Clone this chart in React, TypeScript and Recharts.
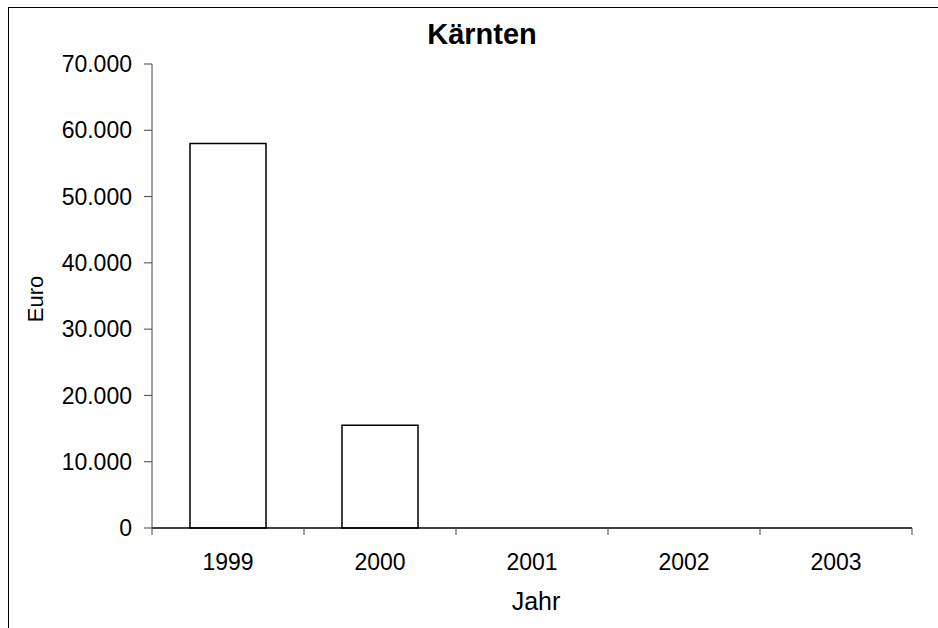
import { BarChart, Bar, XAxis, YAxis } from 'recharts';

const YEARS = ['1999', '2000', '2001', '2002', '2003'];
const EURO = [58000, 15500, 0, 0, 0];
const Y_TICKS = [0, 10000, 20000, 30000, 40000, 50000, 60000, 70000];
// tick marks sit on the category boundaries, not on the bars
const EDGE_TICKS = [0, 1, 2, 3, 4, 5];

// slot = centre of each category on the 0..5 boundary scale
const data = YEARS.map((year, i) => ({ year, euro: EURO[i], slot: i + 0.5 }));

const FONT = '"Liberation Sans", Arial, sans-serif';

// 70000 -> "70.000"
function formatThousands(v: number): string {
  return String(v).replace(/\B(?=(\d{3})+(?!\d))/g, '.');
}

export default function App() {
  return (
    <div
      style={{
        position: 'absolute',
        left: 8,
        top: 7,
        width: 930,
        height: 621,
        overflow: 'hidden',
        fontFamily: FONT,
      }}
    >
      <div
        style={{
          position: 'absolute',
          left: 0,
          top: 0,
          width: 948,
          height: 660,
          border: '1px solid #000',
          boxSizing: 'border-box',
        }}
      />
      <div
        style={{
          position: 'absolute',
          left: 0,
          top: 13,
          width: 948,
          textAlign: 'center',
          fontSize: 29,
          lineHeight: '29px',
          fontWeight: 'bold',
          color: '#000',
        }}
      >
        Kärnten
      </div>
      <div
        style={{
          position: 'absolute',
          left: 28,
          top: 292,
          transform: 'translate(-50%, -50%) rotate(-90deg)',
          fontSize: 22,
          lineHeight: '22px',
          color: '#000',
          whiteSpace: 'nowrap',
        }}
      >
        Euro
      </div>
      <div
        style={{
          position: 'absolute',
          left: 528,
          top: 582,
          transform: 'translateX(-50%)',
          fontSize: 25,
          lineHeight: '25px',
          color: '#000',
          whiteSpace: 'nowrap',
        }}
      >
        Jahr
      </div>
      <BarChart
        width={930}
        height={621}
        data={data}
        margin={{ top: 57, right: 26, left: 24, bottom: 60 }}
        barCategoryGap="25%"
        style={{ position: 'absolute', left: 0, top: 0 }}
      >
        <XAxis
          xAxisId="a_edges"
          type="number"
          dataKey="slot"
          domain={[0, 5]}
          allowDataOverflow
          ticks={EDGE_TICKS}
          interval={0}
          height={7}
          tickFormatter={() => ''}
          axisLine={{ stroke: '#000', strokeWidth: 1.5 }}
          tickLine={{ stroke: '#444' }}
          tickSize={7}
        />
        <XAxis
          xAxisId="b_cat"
          dataKey="year"
          height={33}
          axisLine={false}
          tickLine={false}
          tickSize={0}
          tickMargin={19}
          tick={{ fill: '#000', fontSize: 23, fontFamily: FONT }}
        />
        <YAxis
          width={120}
          domain={[0, 70000]}
          ticks={Y_TICKS}
          interval={0}
          tickFormatter={formatThousands}
          axisLine={{ stroke: '#444' }}
          tickLine={{ stroke: '#444' }}
          tickSize={8}
          tickMargin={12}
          tick={{ fill: '#000', fontSize: 23, fontFamily: FONT }}
        />
        <Bar
          xAxisId="b_cat"
          dataKey="euro"
          fill="#fff"
          stroke="#000"
          strokeWidth={1.5}
          isAnimationActive={false}
        />
      </BarChart>
    </div>
  );
}
